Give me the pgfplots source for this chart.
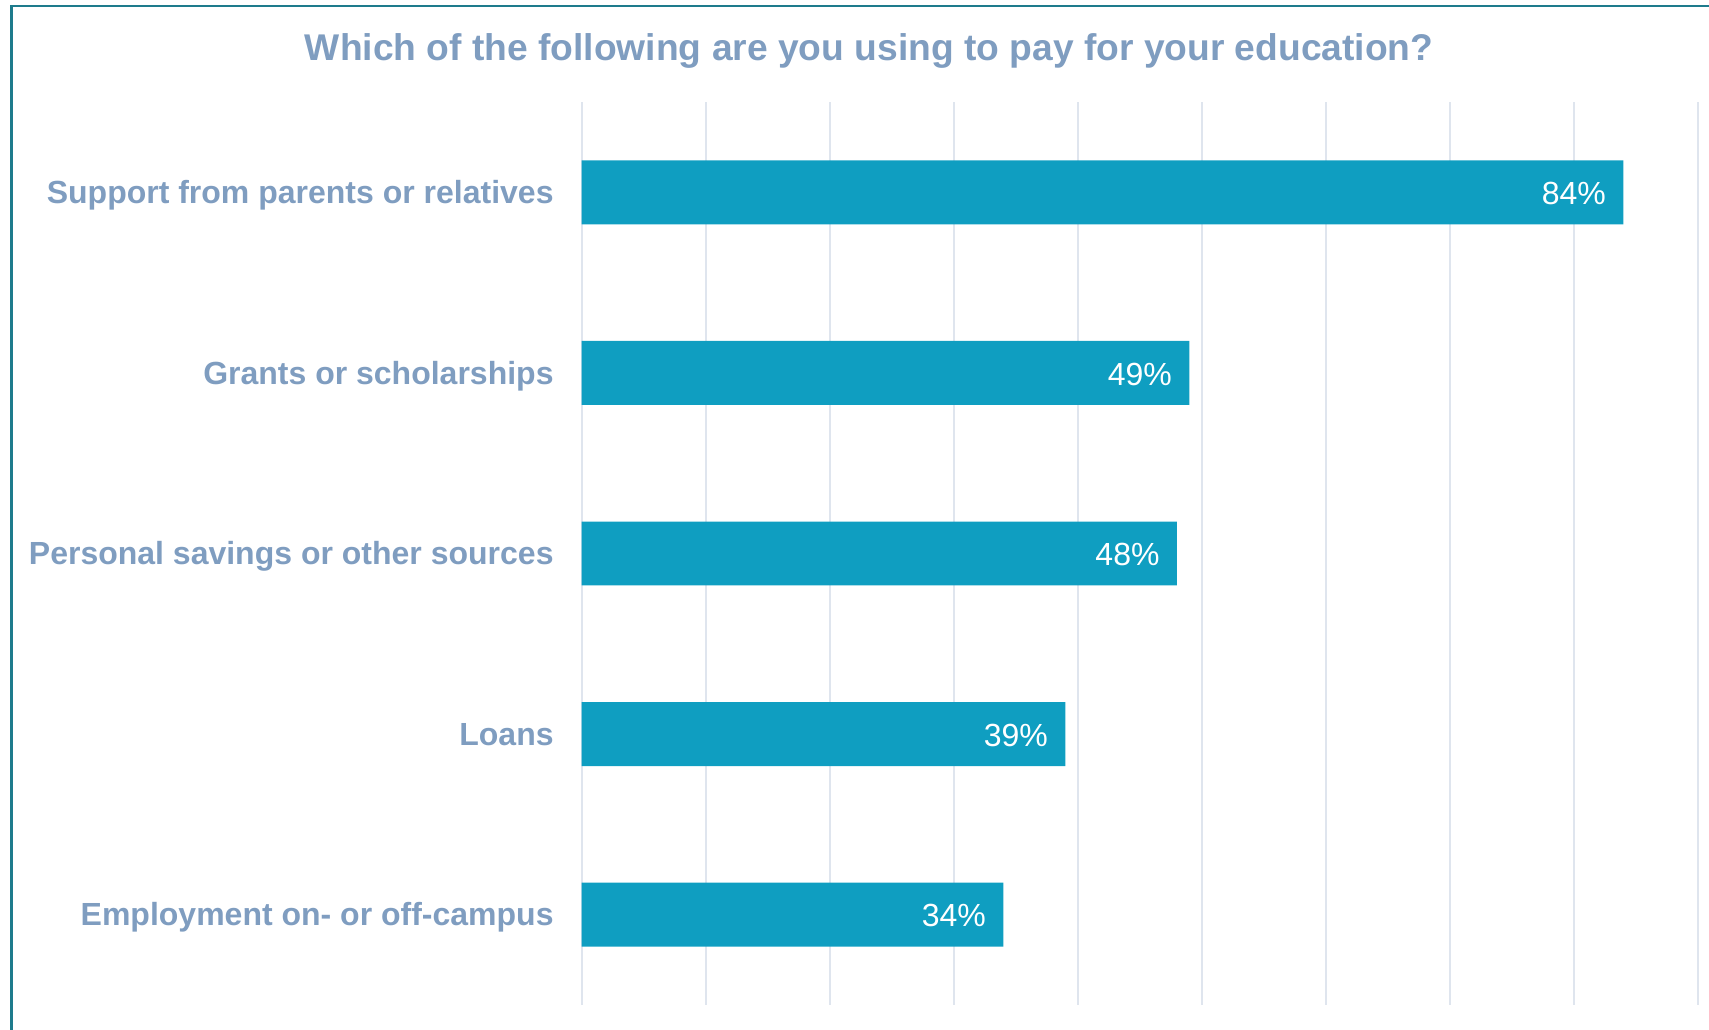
\documentclass[border=0pt]{standalone}
\usepackage{pgfplots}
\pgfplotsset{compat=1.18}
\usepackage{fontspec}
\setmainfont{Liberation Sans}
\definecolor{barc}{HTML}{0F9EC1}
\definecolor{labc}{HTML}{7F9DC0}
\definecolor{gridc}{HTML}{DFE5EE}
\definecolor{borderc}{HTML}{1E7B8C}
\begin{document}
\begin{tikzpicture}
\useasboundingbox (-290.85pt,-12pt) rectangle (563.65pt,502.5pt);
\draw[borderc, line width=1.2pt] (-285.1pt,-20pt) -- (-285.1pt,499.5pt) -- (570pt,499.5pt);
\begin{axis}[
  at={(0pt,0pt)}, anchor=south west,
  scale only axis,
  width=563.6pt, height=451.5pt,
  xbar, bar width=0.354,
  xmin=0, xmax=90.9,
  ymin=-0.5, ymax=4.5,
  ytick={0,1,2,3,4},
  yticklabels={Employment on- or off-campus,Loans,Personal savings or other sources,Grants or scholarships,Support from parents or relatives},
  yticklabel style={anchor=base east, inner sep=0pt, xshift=-13.85pt, yshift=-5.6pt, font=\fontsize{16}{19}\selectfont\bfseries, text=labc},
  xtick={0,10,...,90},
  xticklabels={},
  xmajorgrids,
  grid style={gridc, line width=0.9pt},
  axis line style={draw=none},
  major tick length=0pt,
  /pgf/number format/assume math mode=true,
  nodes near coords={\pgfmathprintnumber{\pgfplotspointmeta}\%},
  nodes near coords style={anchor=base east, inner sep=0pt, xshift=-8.5pt, yshift=-6.1pt, text=white, font=\fontsize{16}{19}\selectfont},
  point meta=x,
  clip=false,
]
\addplot[fill=barc, draw=none] coordinates {(34,0) (39,1) (48,2) (49,3) (84,4)};
\end{axis}
\node[text=labc, font=\fontsize{18.6}{22}\selectfont\bfseries] at (143.7pt,476.9pt) {Which of the following are you using to pay for your education?};
\end{tikzpicture}
\end{document}
